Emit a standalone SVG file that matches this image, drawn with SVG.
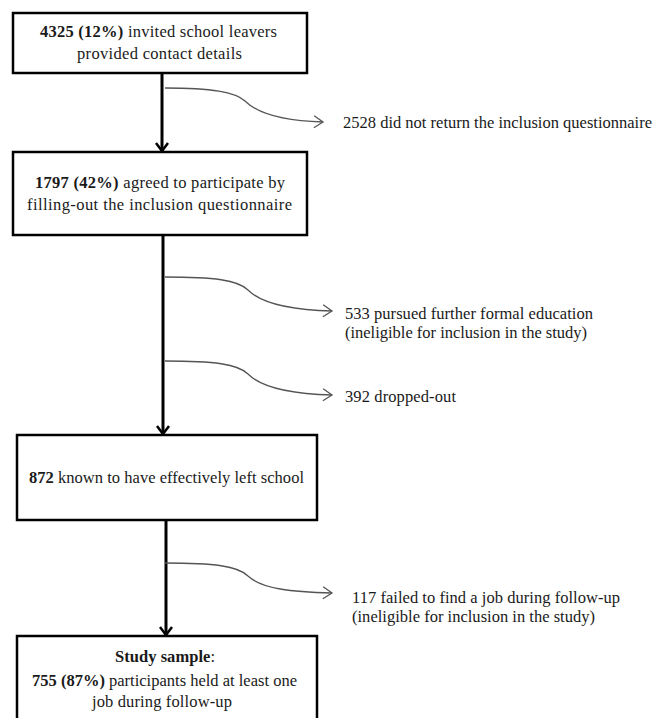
<svg xmlns="http://www.w3.org/2000/svg" width="654" height="718" viewBox="0 0 654 718">
<defs>
<style>
.box{fill:#fff;stroke:#000;stroke-width:2.5}
.t{font-family:'Liberation Serif','Times New Roman',serif;font-size:16.5px;fill:#1a1a1a}
.b{font-weight:bold}
.main{fill:none;stroke:#000;stroke-width:3}
.side{fill:none;stroke:#555;stroke-width:1.3}
</style>
<marker id="mh" viewBox="-10 -8 12 16" markerWidth="12" markerHeight="16" refX="0" refY="0" orient="auto" markerUnits="userSpaceOnUse">
<path d="M-8,-6 L0,0 L-8,6" fill="none" stroke="#000" stroke-width="2.5"/>
</marker>
<marker id="sh" viewBox="-10 -8 12 16" markerWidth="12" markerHeight="16" refX="0" refY="0" orient="auto" markerUnits="userSpaceOnUse">
<path d="M-9,-6 L0,0 L-9,6" fill="none" stroke="#555" stroke-width="1.3"/>
</marker>
</defs>
<rect width="654" height="718" fill="#fff"/>
<g id="connectors">
<line class="main" x1="162" y1="73" x2="162" y2="151" marker-end="url(#mh)"/>
<line class="main" x1="163" y1="235" x2="163" y2="434" marker-end="url(#mh)"/>
<line class="main" x1="166" y1="520" x2="166" y2="635" marker-end="url(#mh)"/>
<path class="side" d="M165,88 C212,88 235,92 245,101 C258,114 285,121 323,122" marker-end="url(#sh)"/>
<path class="side" d="M165,277 C214,277 238,280 248,290 C262,304 292,310 332,311" marker-end="url(#sh)"/>
<path class="side" d="M165,361 C214,361 238,364 248,374 C262,388 292,394 332,395" marker-end="url(#sh)"/>
<path class="side" d="M165,563 C214,563 238,566 248,576 C262,589 292,592 332,593" marker-end="url(#sh)"/>
</g>
<g id="n1">
<rect class="box" x="13" y="13" width="294" height="60"/>
<text class="t" x="40" y="37" textLength="237" lengthAdjust="spacing"><tspan class="b">4325 (12%)</tspan> invited school leavers</text>
<text class="t" x="77" y="59" textLength="165" lengthAdjust="spacing">provided contact details</text>
</g>
<g id="n2">
<rect class="box" x="13" y="152" width="294" height="83"/>
<text class="t" x="35" y="188" textLength="250" lengthAdjust="spacing"><tspan class="b">1797 (42%)</tspan> agreed to participate by</text>
<text class="t" x="27" y="210" textLength="265" lengthAdjust="spacing">filling-out the inclusion questionnaire</text>
</g>
<g id="n3">
<rect class="box" x="17" y="435" width="300" height="85"/>
<text class="t" x="29" y="483" textLength="275" lengthAdjust="spacing"><tspan class="b">872</tspan> known to have effectively left school</text>
</g>
<g id="n4">
<rect class="box" x="17" y="636" width="300" height="100"/>
<text class="t b" x="115" y="662" textLength="100" lengthAdjust="spacing">Study sample<tspan font-weight="normal">:</tspan></text>
<text class="t" x="32" y="686" textLength="265" lengthAdjust="spacing"><tspan class="b">755 (87%)</tspan> participants held at least one</text>
<text class="t" x="92" y="707" textLength="140" lengthAdjust="spacing">job during follow-up</text>
</g>
<g id="e1">
<text class="t" x="343" y="128" textLength="309" lengthAdjust="spacing">2528 did not return the inclusion questionnaire</text>
</g>
<g id="e2">
<text class="t" x="345" y="319" textLength="248" lengthAdjust="spacing">533 pursued further formal education</text>
<text class="t" x="345" y="338" textLength="242" lengthAdjust="spacing">(ineligible for inclusion in the study)</text>
</g>
<g id="e3">
<text class="t" x="345" y="402" textLength="111" lengthAdjust="spacing">392 dropped-out</text>
</g>
<g id="e4">
<text class="t" x="352" y="603" textLength="268" lengthAdjust="spacing">117 failed to find a job during follow-up</text>
<text class="t" x="352" y="622" textLength="243" lengthAdjust="spacing">(ineligible for inclusion in the study)</text>
</g>
</svg>
